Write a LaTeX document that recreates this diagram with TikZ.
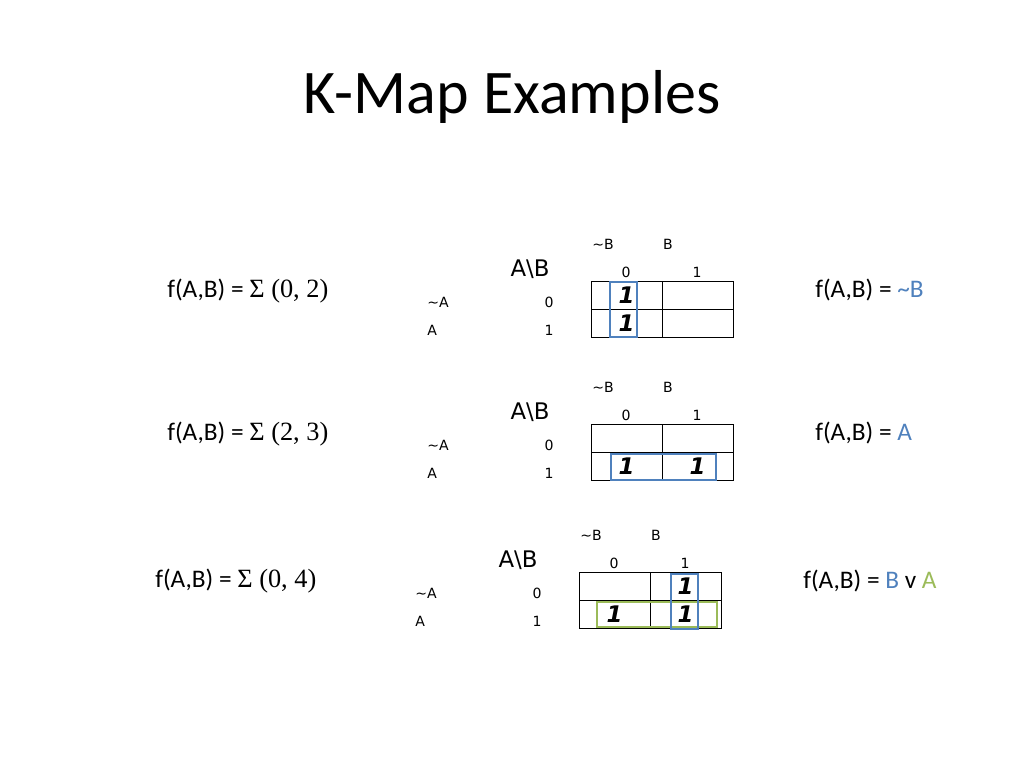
\documentclass[tikz,border=0pt]{standalone}
\usepackage{fontspec}
\setmainfont{Carlito}
\newfontfamily\verdfont{DejaVu Sans}[BoldFont={DejaVu Sans Bold}, ItalicFont={DejaVu Sans Oblique}, BoldItalicFont={DejaVu Sans Bold Oblique}]
\newfontfamily\timesfont{Liberation Serif}
\usepackage{xcolor}
\definecolor{kblue}{RGB}{79,129,189}
\definecolor{kgreen}{RGB}{155,187,89}

\begin{document}
\begin{tikzpicture}[x=0.02cm, y=-0.02cm,
    title/.style={font=\fontsize{35.3}{40}\selectfont},
    func/.style={anchor=west, inner sep=0pt, font=\fontsize{14.4}{17}\selectfont},
    small/.style={inner sep=0pt, font=\verdfont\fontsize{8}{9}\selectfont},
    corner/.style={inner sep=0pt, font=\verdfont\fontsize{13}{15}\selectfont},
    cell/.style={draw, line width=0.5pt, minimum width=1.42cm, minimum height=0.56cm, inner sep=0pt, font=\verdfont\bfseries\itshape\fontsize{13}{15}\selectfont},
    bluegrp/.style={draw=kblue, line width=1.6pt},
    greengrp/.style={draw=kgreen, line width=1.6pt}
]
\useasboundingbox (0,0) rectangle (1024,768);

\node[title] (title) at (512,97) {K-Map Examples};

% the three maps
\foreach \r/\dx/\dy/\a/\b/\c/\d in {1/0/0/1/{}/1/{}, 2/0/143/{}/{}/1/1, 3/-12/291/{}/1/1/1}{
  \begin{scope}[shift={(\dx,\dy)}]
    \node[small] (nb\r) at (603,244) {\textasciitilde B};
    \node[small] (b\r) at (668,244) {B};
    \node[small] (h0\r) at (626,272) {0};
    \node[small] (h1\r) at (697,272) {1};
    \node[corner] (ab\r) at (530,269) {A\textbackslash B};
    \node[small, anchor=west] (na\r) at (427,302) {\textasciitilde A};
    \node[small, anchor=west] (a\r) at (427,330) {A};
    \node[small] (v0\r) at (549,302) {0};
    \node[small] (v1\r) at (549,330) {1};
    \node[cell] (c00\r) at (626.5,295) {\a};
    \node[cell] (c01\r) at (697.5,295) {\b};
    \node[cell] (c10\r) at (626.5,323) {\c};
    \node[cell] (c11\r) at (697.5,323) {\d};
  \end{scope}
}

% groups
\draw[bluegrp] (610,282) rectangle (637,337);
\draw[bluegrp] (611,454) rectangle (716,480);
\draw[greengrp] (597,602) rectangle (717,627);
\draw[bluegrp] (671,574) rectangle (698,629);

% functions
\node[func] (f1) at (167,291) {f(A,B) = {\timesfont\fontsize{15}{17}\selectfont Σ (0, 2)}};
\node[func] (f2) at (167,434) {f(A,B) = {\timesfont\fontsize{15}{17}\selectfont Σ (2, 3)}};
\node[func] (f3) at (155,581) {f(A,B) = {\timesfont\fontsize{15}{17}\selectfont Σ (0, 4)}};

\node[func] (g1) at (815,290) {f(A,B) = \textcolor{kblue}{\textasciitilde B}};
\node[func] (g2) at (815,433) {f(A,B) = \textcolor{kblue}{A}};
\node[func] (g3) at (803,581) {f(A,B) = \textcolor{kblue}{B} v \textcolor{kgreen}{A}};
\end{tikzpicture}
\end{document}
